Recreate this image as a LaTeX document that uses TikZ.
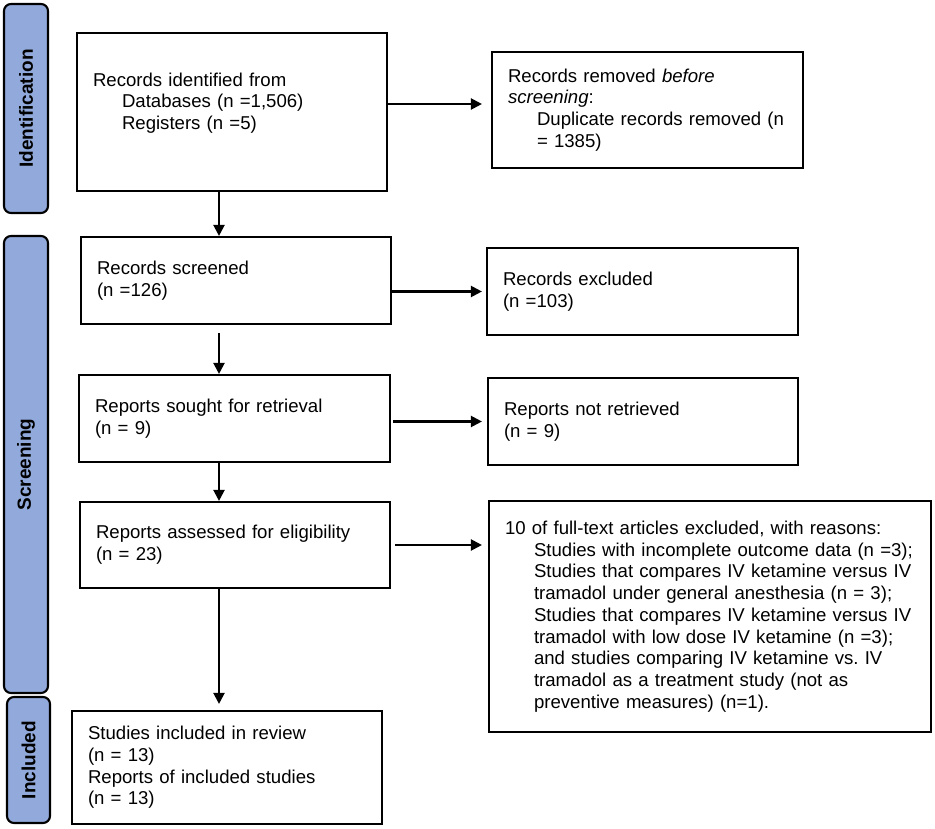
\documentclass[tikz,border=0pt]{standalone}
\usepackage{fontspec}
\setmainfont{Liberation Sans}
\usetikzlibrary{positioning}
\usetikzlibrary{arrows.meta}
\usetikzlibrary{shapes}
\definecolor{phaseblue}{HTML}{92AADB}
\newcommand{\pindent}{\hspace*{29pt}}
\frenchspacing

\begin{document}
\begin{tikzpicture}[x=1pt,y=-1pt,>={Triangle[length=11pt,width=11pt]},
    box/.style={shape=rectangle,draw,line width=2.1pt,align=left,inner xsep=16pt,
        font=\fontsize{18.6}{21.7}\selectfont},
    phase/.style={shape=rectangle,draw,line width=2.1pt,rounded corners=7pt,fill=phaseblue,
        rotate=90,font=\fontsize{19}{21}\selectfont\bfseries},
    link/.style={->,line width=2.1pt}]
    \useasboundingbox (0,0) rectangle (935,829);
	    % phase bars on the left
		    \node[phase,minimum width=209pt,minimum height=44pt] (ident) at (26,108.5) {Identification};
		    \node[phase,minimum width=457pt,minimum height=44pt] (screen) at (26,464.5) {Screening};
		    \node[phase,minimum width=126pt,minimum height=43pt] (incl) at (28.5,760) {Included};
	    % create the nodes
		    \node[box,text width=278pt,minimum height=158pt] (identified) at (232,112) {Records identified from\\
		        \pindent Databases (n =1,506)\\ \pindent Registers (n =5)\\ \mbox{}};
		    \node[box,text width=279pt,minimum height=116pt] (removed) at (647.5,110) {Records removed \textit{before}\\
		        \textit{screening}:\\ \pindent Duplicate records removed (n\\ \pindent = 1385)};
		    \node[box,text width=278pt,minimum height=87pt] (screened) at (236,280.5) {Records screened\\(n =126)};
		    \node[box,text width=279pt,minimum height=87pt] (excluded) at (642.5,291.5) {Records excluded\\(n =103)};
		    \node[box,text width=279pt,minimum height=87pt] (sought) at (234.5,418.5) {Reports sought for retrieval\\(n = 9)};
		    \node[box,text width=278pt,minimum height=87pt] (notretr) at (643,421.5) {Reports not retrieved\\(n = 9)};
		    \node[box,text width=278pt,minimum height=86pt] (assessed) at (235,545) {Reports assessed for eligibility\\(n = 23)};
		    \node[box,text width=410pt,minimum height=231pt] (reasons) at (710,616.5) {10 of full-text articles excluded, with reasons:\\
		        \pindent Studies with incomplete outcome data (n =3);\\
		        \pindent Studies that compares IV ketamine versus IV\\
		        \pindent tramadol under general anesthesia (n = 3);\\
		        \pindent Studies that compares IV ketamine versus IV\\
		        \pindent tramadol with low dose IV ketamine (n =3);\\
		        \pindent and studies comparing IV ketamine vs. IV\\
		        \pindent tramadol as a treatment study (not as\\
		        \pindent preventive measures) (n=1).};
		    \node[box,text width=278pt,minimum height=113pt] (included) at (227,767.5) {Studies included in review\\(n = 13)\\
		        Reports of included studies\\(n = 13)};
	    % arrows
		    \coordinate (spine) at (219,0);
		    \draw[link,shorten >=9pt] ([yshift=8pt]identified.east) -- ([yshift=8pt]identified.east -| removed.west);
		    \draw[link,shorten >=4pt] (screened.east |- excluded.west) -- (excluded.west);
		    \draw[link,shorten <=2pt,shorten >=5pt] (sought.east |- notretr.west) -- (notretr.west);
		    \draw[link,shorten <=4pt,shorten >=6pt] (assessed.east) -- (assessed.east -| reasons.west);
		    \draw[link] (identified.south -| spine) -- (screened.north -| spine);
		    \draw[link,shorten <=8pt] (screened.south -| spine) -- (sought.north -| spine);
		    \draw[link] (sought.south -| spine) -- (assessed.north -| spine);
		    \draw[link,shorten >=6pt] (assessed.south -| spine) -- (included.north -| spine);
\end{tikzpicture}
\end{document}
